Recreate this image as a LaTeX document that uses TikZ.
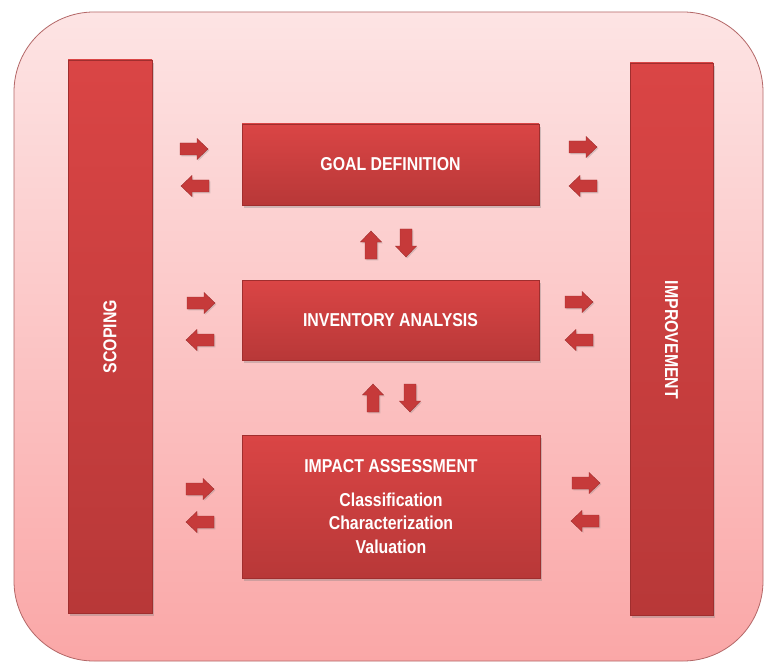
\documentclass[tikz,border=0pt]{standalone}
\usepackage{fontspec}
\setmainfont{Liberation Sans}[FakeStretch=0.85]
\usetikzlibrary{shadows}
\definecolor{bgtop}{HTML}{FDE4E4}
\definecolor{bgbot}{HTML}{FAA7A7}
\definecolor{bgline}{HTML}{B46868}
\definecolor{redtop}{HTML}{DA4545}
\definecolor{redbot}{HTML}{B83838}
\definecolor{redline}{HTML}{A02E2E}
\definecolor{arrowred}{HTML}{C63A3A}
\begin{document}
\begin{tikzpicture}[x=0.75pt,y=-0.75pt,
  redbox/.style={rectangle, top color=redtop, bottom color=redbot, draw=redline, line width=0.5pt,
    drop shadow={opacity=0.35, shadow xshift=1.5pt, shadow yshift=-2pt}, inner sep=0pt},
  lbl/.style={text=white, font=\bfseries\fontsize{14}{17.5}\selectfont, align=center, inner sep=0pt},
  blockarrow/.pic={\fill[arrowred, draw=redline, line width=0.3pt, line join=miter,
      drop shadow={opacity=0.3, shadow xshift=1pt, shadow yshift=-1pt}]
      (-14,-6) -- (3,-6) -- (3,-10.5) -- (14,0) -- (3,10.5) -- (3,6) -- (-14,6) -- cycle;}]
\useasboundingbox (0,0) rectangle (764,663);
\fill[white] (0,0) rectangle (764,663);
% outer panel
\path[draw=bgline, line width=0.6pt, top color=bgtop, bottom color=bgbot, rounded corners=60pt]
  (14,12) rectangle (763,661);
% side bars
\node[redbox, minimum width=63pt, minimum height=414.75pt] (scoping) at (110,336.5) {};
\node[lbl, rotate=90] (scopingtext) at (scoping.center) {SCOPING};
\node[redbox, minimum width=62.25pt, minimum height=414pt] (improvement) at (671.5,339) {};
\node[lbl, rotate=-90] (improvementtext) at (671.5,340) {IMPROVEMENT};
% central boxes
\node[redbox, lbl, minimum width=222.75pt, minimum height=60.75pt] (goal) at (390.5,164.5) {GOAL DEFINITION};
\node[redbox, lbl, minimum width=222.75pt, minimum height=60pt] (inventory) at (390.5,320) {INVENTORY ANALYSIS};
\node[redbox, lbl, minimum width=223.5pt, minimum height=107.25pt] (impact) at (391,506.5)
  {IMPACT ASSESSMENT\\[8pt]Classification\\Characterization\\Valuation};
% left arrows
\pic at (194,149) {blockarrow};
\pic[rotate=180] at (195,186) {blockarrow};
\pic at (201,303) {blockarrow};
\pic[rotate=180] at (200,340) {blockarrow};
\pic at (200,489) {blockarrow};
\pic[rotate=180] at (200,522) {blockarrow};
% right arrows
\pic at (583,147) {blockarrow};
\pic[rotate=180] at (583,186) {blockarrow};
\pic at (579,302) {blockarrow};
\pic[rotate=180] at (579,340) {blockarrow};
\pic at (586,483) {blockarrow};
\pic[rotate=180] at (585,521) {blockarrow};
% vertical arrows
\pic[rotate=90] at (371,245) {blockarrow};
\pic[rotate=-90] at (406,243) {blockarrow};
\pic[rotate=90] at (373,398) {blockarrow};
\pic[rotate=-90] at (410,398) {blockarrow};
\end{tikzpicture}
\end{document}
